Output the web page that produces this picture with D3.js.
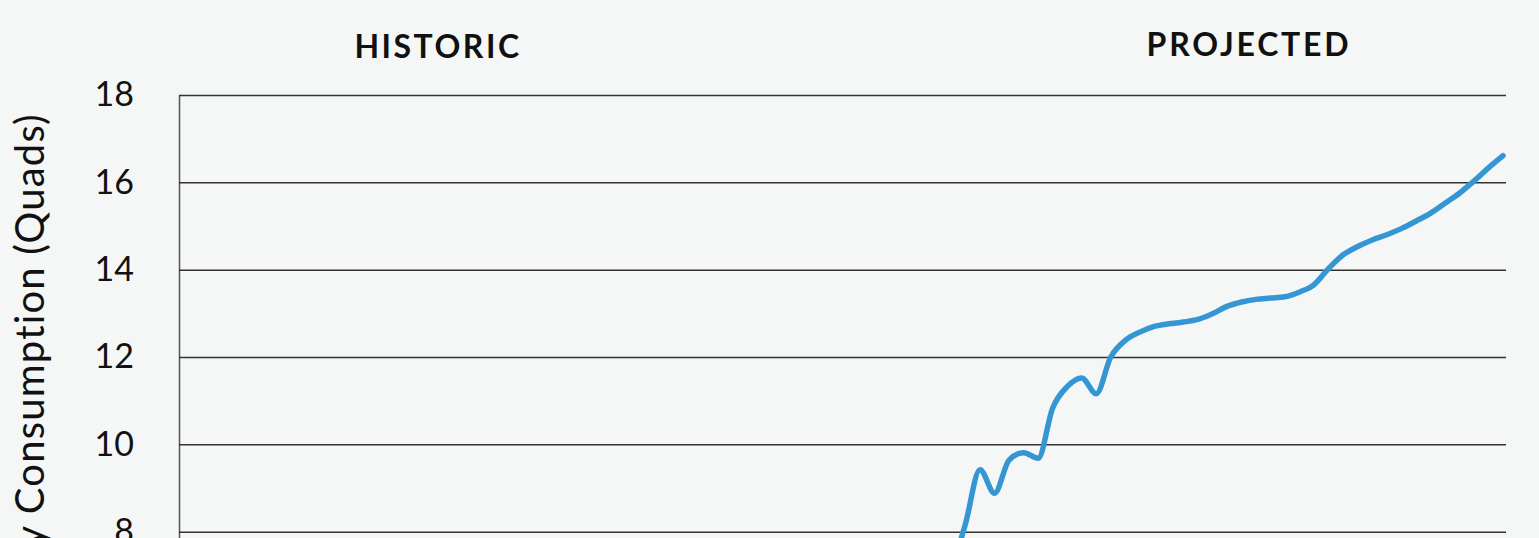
<!DOCTYPE html>
<html>
<head>
<meta charset="utf-8">
<script src="https://cdn.jsdelivr.net/npm/d3@7"></script>
<style>
  html, body { margin: 0; padding: 0; overflow: hidden; background: #f5f7f6; }
  #chart { width: 1539px; height: 538px; overflow: hidden; }
</style>
</head>
<body>
<div id="chart"></div>
<script>
// data (only the visible part of the series)
const years = [2012, 2013, 2014, 2015, 2016, 2017, 2018, 2019, 2020, 2021,
  2022, 2023, 2024, 2025, 2026, 2027, 2028, 2029, 2030, 2031,
  2032, 2033, 2034, 2035, 2036, 2037, 2038, 2039, 2040, 2041,
  2042, 2043, 2044, 2045, 2046, 2047, 2048, 2049, 2050];
const consumption = [7.07, 8.18, 9.42, 8.88, 9.64, 9.81, 9.68, 10.83, 11.32, 11.52,
  11.16, 12.0, 12.38, 12.57, 12.70, 12.76, 12.80, 12.86, 12.99, 13.16,
  13.26, 13.32, 13.35, 13.38, 13.49, 13.66, 14.03, 14.34, 14.53, 14.68,
  14.80, 14.94, 15.11, 15.29, 15.52, 15.75, 16.03, 16.33, 16.61];
const yearRange = [1959, 2050];
const yTicks = [0, 2, 4, 6, 8, 10, 12, 14, 16, 18];
const sectionLabels = ["HISTORIC", "PROJECTED"];
const yTitle = "Energy Consumption (Quads)";

// svg is taller than the window, the lower part is cut off like in the original
const canvWidth = 1539, canvHeight = 960;
const margin = { top: 95, right: 33, bottom: 79, left: 179 };
const width = canvWidth - margin.left - margin.right;
const height = canvHeight - margin.top - margin.bottom;

const svg = d3.select("#chart").append("svg")
  .attr("width", canvWidth)
  .attr("height", canvHeight)
  .style("display", "block");

svg.append("rect")
  .attr("width", canvWidth)
  .attr("height", canvHeight)
  .attr("fill", "#f5f7f6");

const g = svg.append("g")
  .attr("transform", `translate(${margin.left},${margin.top})`);

const xScale = d3.scaleLinear().domain(yearRange).range([2, width - 3]);
const yScale = d3.scaleLinear().domain([0, 18]).range([height, 0]);

// y axis with gridlines across
const yAxis = d3.axisLeft(yScale)
  .tickValues(yTicks)
  .tickSize(-width)
  .tickSizeOuter(0)
  .tickPadding(45)
  .tickFormat(d3.format("d"));

const yAxisG = g.append("g")
  .attr("id", "yAxis")
  .call(yAxis);

yAxisG.select(".domain")
  .attr("stroke", "#555")
  .attr("stroke-width", 1.5);
yAxisG.selectAll(".tick line")
  .attr("stroke", "#333")
  .attr("stroke-width", 1.5);
yAxisG.selectAll(".tick text")
  .attr("font-family", "Lato, sans-serif")
  .attr("font-size", "34px")
  .attr("fill", "#111");

// line
const lineGenerator = d3.line()
  .x((d, i) => xScale(years[i]))
  .y(d => yScale(d))
  .curve(d3.curveMonotoneX);

g.append("path")
  .datum(consumption)
  .attr("d", lineGenerator)
  .attr("fill", "none")
  .attr("stroke", "#3596d4")
  .attr("stroke-width", 5.5)
  .attr("stroke-linecap", "round")
  .attr("stroke-linejoin", "round");

// section titles
svg.append("text")
  .attr("x", 438)
  .attr("y", 58)
  .attr("font-family", "Lato, sans-serif")
  .attr("font-weight", "bold")
  .attr("font-size", "32px")
  .attr("letter-spacing", "2.5px")
  .style("text-anchor", "middle")
  .attr("fill", "#111")
  .text(sectionLabels[0]);

svg.append("text")
  .attr("x", 1249)
  .attr("y", 56)
  .attr("font-family", "Lato, sans-serif")
  .attr("font-weight", "bold")
  .attr("font-size", "32px")
  .attr("letter-spacing", "2.8px")
  .style("text-anchor", "middle")
  .attr("fill", "#111")
  .text(sectionLabels[1]);

// y axis title
svg.append("text")
  .attr("transform", "translate(44,113) rotate(-90)")
  .attr("font-family", "Lato, sans-serif")
  .attr("font-size", "40px")
  .attr("letter-spacing", "1.2px")
  .style("text-anchor", "end")
  .attr("fill", "#111")
  .text(yTitle);
</script>
</body>
</html>
